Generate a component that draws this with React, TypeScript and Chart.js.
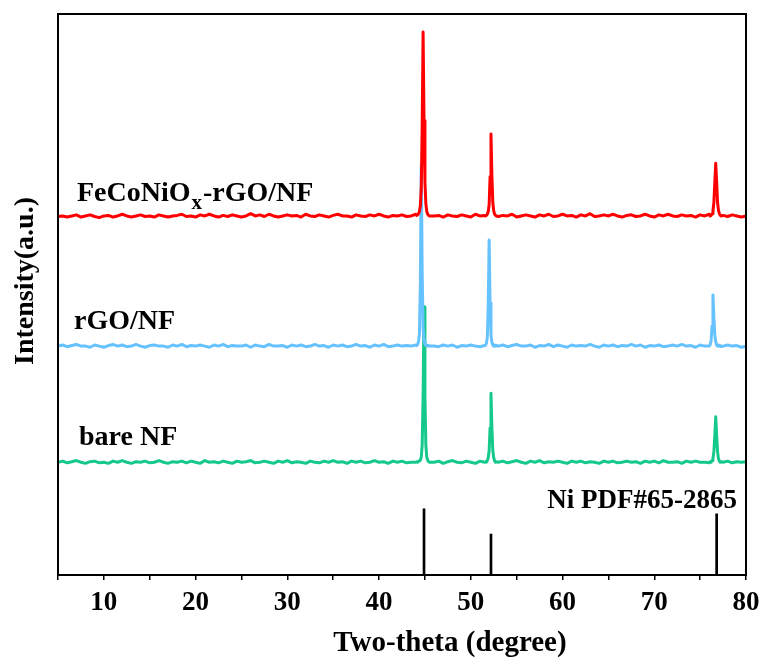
import React, { useEffect, useRef } from "react";
import { Chart, registerables } from "chart.js";

Chart.register(...registerables);

// ---------- data ----------
const twoTheta = [
  5, 5.5, 6, 6.5, 7, 7.5, 8, 8.5, 9, 9.5, 10, 10.5, 11, 11.5, 12, 12.5, 13, 13.5, 14, 14.5,
  15, 15.5, 16, 16.5, 17, 17.5, 18, 18.5, 19, 19.5, 20, 20.5, 21, 21.5, 22, 22.5, 23, 23.5, 24, 24.5,
  25, 25.5, 26, 26.5, 27, 27.5, 28, 28.5, 29, 29.5, 30, 30.5, 31, 31.5, 32, 32.5, 33, 33.5, 34, 34.5,
  35, 35.5, 36, 36.5, 37, 37.5, 38, 38.5, 39, 39.5, 40, 40.5, 41, 41.5, 42, 42.5, 43, 43.5, 44,
  44.1, 44.2, 44.3, 44.4, 44.5, 44.6, 44.7, 44.8, 44.9, 45, 45.1, 45.2, 45.3, 45.4, 45.5,
  46, 46.5, 47, 47.5, 48, 48.5, 49, 49.5, 50, 50.5, 51, 51.5,
  51.6, 51.7, 51.8, 51.9, 52, 52.1, 52.2, 52.3, 52.4, 52.5, 52.6, 52.7, 52.8,
  53, 53.5, 54, 54.5, 55, 55.5, 56, 56.5, 57, 57.5, 58, 58.5, 59, 59.5, 60, 60.5, 61, 61.5, 62, 62.5,
  63, 63.5, 64, 64.5, 65, 65.5, 66, 66.5, 67, 67.5, 68, 68.5, 69, 69.5, 70, 70.5, 71, 71.5, 72, 72.5,
  73, 73.5, 74, 74.5, 75, 75.5, 76,
  76.1, 76.2, 76.3, 76.4, 76.5, 76.6, 76.7, 76.8, 76.9, 77, 77.1, 77.2, 77.3,
  77.5, 78, 78.5, 79, 79.5, 80,
];

const feCoNiOxRgoNf = [
  639, 640, 638, 640, 642, 638, 640, 642, 639, 637, 640, 641, 638, 640, 643, 640, 638, 640, 642, 639,
  640, 638, 642, 640, 638, 640, 641, 643, 639, 640, 638, 642, 640, 643, 640, 638, 641, 639, 642, 640,
  638, 640, 644, 640, 642, 639, 643, 640, 638, 640, 642, 640, 641, 638, 643, 640, 639, 642, 640, 638,
  641, 643, 640, 640, 638, 642, 640, 639, 642, 640, 643, 640, 638, 641, 640, 642, 639, 640, 643,
  641, 642, 644, 648, 658, 690, 800, 968, 810, 700, 662, 648, 643, 641, 640,
  640, 641, 638, 642, 640, 639, 642, 640, 638, 643, 640, 641,
  640, 641, 643, 648, 660, 710, 786, 712, 664, 649, 643, 641, 640,
  639, 641, 640, 643, 638, 640, 642, 640, 638, 642, 640, 643, 639, 640, 643, 640, 641, 638, 642, 640,
  644, 639, 640, 642, 640, 643, 640, 638, 641, 642, 639, 640, 643, 640, 638, 642, 640, 643, 640, 639,
  642, 640, 641, 638, 642, 640, 643,
  640, 641, 644, 650, 664, 700, 734, 700, 664, 650, 644, 641, 640,
  641, 639, 642, 640, 638, 640,
];

const rgoNf = [
  408, 410, 407, 409, 411, 408, 408, 406, 410, 408, 406, 409, 411, 408, 410, 407, 408, 411, 408, 406,
  409, 410, 408, 408, 406, 410, 408, 411, 407, 409, 408, 410, 408, 406, 410, 408, 411, 407, 409, 408,
  408, 410, 406, 410, 408, 407, 411, 408, 408, 409, 406, 410, 408, 410, 407, 408, 411, 408, 409, 406,
  410, 408, 410, 407, 408, 411, 408, 409, 406, 410, 408, 411, 407, 408, 410, 408, 409, 408, 410,
  409, 411, 416, 430, 520, 731, 540, 440, 418, 412, 409, 410, 408, 409, 408,
  408, 407, 410, 408, 410, 406, 409, 408, 410, 408, 407, 409,
  409, 413, 424, 480, 597, 485, 428, 415, 410, 408, 410, 408, 409,
  408, 410, 407, 409, 411, 408, 408, 410, 406, 409, 408, 411, 407, 410, 408, 406, 410, 408, 409, 408,
  411, 408, 406, 410, 408, 410, 407, 409, 408, 411, 408, 410, 406, 409, 408, 410, 407, 408, 410, 408,
  411, 408, 409, 406, 410, 408, 408,
  411, 418, 444, 499, 458, 428, 416, 410, 408, 410, 408, 409, 407,
  408, 410, 408, 409, 406, 408,
];

const bareNf = [
  201, 203, 200, 202, 204, 201, 199, 202, 203, 200, 201, 199, 203, 201, 204, 201, 199, 202, 201, 203,
  200, 201, 204, 201, 199, 202, 201, 203, 200, 203, 201, 199, 204, 201, 202, 200, 203, 201, 199, 203,
  201, 202, 204, 200, 201, 203, 201, 199, 203, 201, 204, 200, 202, 201, 199, 203, 201, 200, 203, 201,
  204, 201, 202, 199, 203, 201, 203, 200, 201, 204, 201, 202, 199, 203, 201, 203, 200, 201, 201,
  202, 201, 203, 203, 205, 210, 232, 320, 478, 320, 232, 210, 205, 202, 201,
  201, 203, 199, 202, 204, 201, 200, 203, 201, 199, 203, 201,
  202, 201, 204, 209, 222, 262, 324, 262, 222, 209, 203, 201, 202,
  201, 203, 200, 202, 204, 201, 199, 203, 201, 204, 200, 202, 201, 203, 201, 199, 203, 201, 203, 200,
  202, 201, 199, 203, 201, 203, 200, 201, 203, 201, 202, 199, 203, 201, 203, 200, 204, 201, 201, 202,
  199, 203, 201, 203, 201, 201, 200,
  202, 201, 204, 208, 220, 248, 282, 248, 220, 207, 203, 201, 202,
  201, 203, 200, 202, 201, 202,
];

const pdfPositions = [44.9, 52.2, 76.8];
const pdfIntensities = [118, 73, 109];

const seriesNames = ["FeCoNiOx-rGO/NF", "rGO/NF", "bare NF"];
const referenceName = "Ni PDF#65-2865";
const xTitle = "Two-theta (degree)";
const yTitle = "Intensity(a.u.)";

const X_MIN = 5;
const X_MAX = 80;
const X_STEP = 5;

// ---------- styles ----------
const SERIF = '"Liberation Serif", "Times New Roman", serif';
const COLORS = ["#ff0000", "#66c2ff", "#14c98a"];

const overlayPlugin = {
  id: "overlay",
  afterDraw(chart: any) {
    const { ctx, chartArea: a } = chart;
    ctx.save();
    // frame
    ctx.strokeStyle = "#000";
    ctx.lineWidth = 2;
    ctx.strokeRect(a.left, a.top, a.right - a.left, a.bottom - a.top);

    ctx.fillStyle = "#000";
    ctx.textAlign = "left";
    ctx.textBaseline = "alphabetic";

    // FeCoNiOx-rGO/NF with subscript x
    ctx.font = `bold 28px ${SERIF}`;
    let x = 77;
    const main = "FeCoNiO";
    ctx.fillText(main, x, 201);
    x += ctx.measureText(main).width;
    ctx.font = `bold 21px ${SERIF}`;
    ctx.fillText("x", x + 1, 209);
    x += ctx.measureText("x").width + 2;
    ctx.font = `bold 28px ${SERIF}`;
    ctx.fillText("-rGO/NF", x, 201);

    ctx.fillText(seriesNames[1], 74, 329);
    ctx.fillText(seriesNames[2], 79, 445);

    ctx.font = `bold 27px ${SERIF}`;
    ctx.textAlign = "right";
    ctx.fillText(referenceName, 737, 508);

    // x title
    ctx.font = `bold 29px ${SERIF}`;
    ctx.textAlign = "center";
    ctx.fillText(xTitle, 450, 651);

    // y title
    ctx.save();
    ctx.translate(33, 281);
    ctx.rotate(-Math.PI / 2);
    ctx.font = `bold 28px ${SERIF}`;
    ctx.textAlign = "center";
    ctx.fillText(yTitle, 0, 0);
    ctx.restore();

    ctx.restore();
  },
};

export default function App() {
  const canvasRef = useRef<HTMLCanvasElement | null>(null);

  useEffect(() => {
    const canvas = canvasRef.current;
    if (!canvas) return;

    const lineSets = [feCoNiOxRgoNf, rgoNf, bareNf].map((ys, i) => ({
      type: "line" as const,
      label: seriesNames[i],
      data: twoTheta.map((t, j) => ({ x: t, y: ys[j] })),
      borderColor: COLORS[i],
      backgroundColor: COLORS[i],
      borderWidth: 3,
      pointRadius: 0,
      tension: 0,
      borderJoinStyle: "round" as const,
      fill: false,
    }));

    const chart = new Chart(canvas, {
      type: "line",
      data: {
        datasets: [
          ...lineSets,
          {
            type: "bar" as const,
            label: referenceName,
            data: pdfPositions.map((p, i) => ({ x: p, y: pdfIntensities[i] })),
            backgroundColor: "#000",
            borderWidth: 0,
            barThickness: 2,
            grouped: false,
          } as any,
        ],
      },
      options: {
        animation: false,
        responsive: false,
        events: [],
        layout: { padding: { top: 14, right: 21, left: 0, bottom: 0 } },
        plugins: {
          legend: { display: false },
          tooltip: { enabled: false },
          title: { display: false },
        },
        scales: {
          x: {
            type: "linear",
            min: X_MIN,
            max: X_MAX,
            offset: false,
            afterFit: (s: any) => {
              s.height = 89;
            },
            border: { display: true, color: "#000", width: 2 },
            grid: {
              display: true,
              offset: false,
              drawOnChartArea: false,
              drawTicks: true,
              tickLength: 5,
              color: "#000",
              lineWidth: 1.5,
            },
            ticks: {
              stepSize: X_STEP,
              autoSkip: false,
              maxRotation: 0,
              color: "#000",
              padding: 7,
              font: { family: SERIF, weight: "bold", size: 27 },
              callback: (v: any) => (Number(v) % 10 === 0 ? String(v) : ""),
            },
          },
          y: {
            type: "linear",
            min: 0,
            max: 1000,
            afterFit: (s: any) => {
              s.width = 58;
            },
            border: { display: true, color: "#000", width: 2 },
            grid: { display: false, drawTicks: false },
            ticks: { display: false },
          },
        },
      },
      plugins: [overlayPlugin],
    } as any);

    return () => chart.destroy();
  }, []);

  return (
    <div style={{ position: "absolute", left: 0, top: 0, width: 767, height: 664, background: "#fff" }}>
      <canvas ref={canvasRef} width={767} height={664} style={{ display: "block" }} />
    </div>
  );
}
